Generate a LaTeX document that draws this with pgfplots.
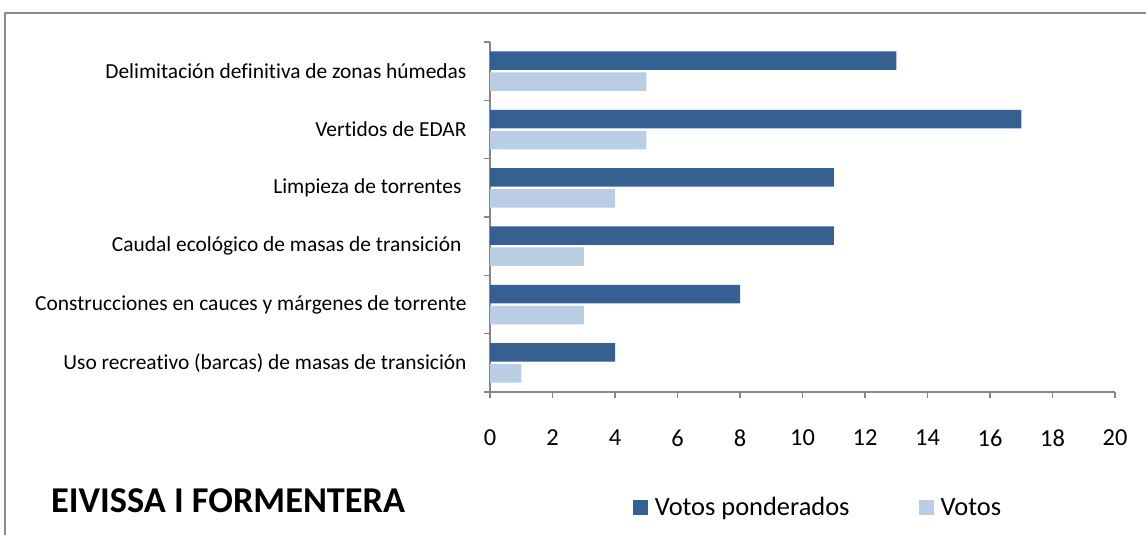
\documentclass[border=0pt]{standalone}
\usepackage{fontspec}
\setmainfont{Carlito}[Ligatures=NoCommon]
\usepackage{pgfplots}
\pgfplotsset{compat=1.18}
\definecolor{darkbar}{HTML}{376092}
\definecolor{lightbar}{HTML}{B9CDE5}
\definecolor{axgray}{HTML}{868686}
\definecolor{framegray}{HTML}{8C8C8C}

\begin{document}
\begin{tikzpicture}
\useasboundingbox (0,0) rectangle (1146bp,535bp);
% outer chart frame (cut at right and bottom)
\draw[framegray, line width=2bp] (5bp,0) -- (5bp,522bp) -- (1146bp,522bp);

\begin{axis}[
  at={(490bp,143bp)}, anchor=origin,
  scale only axis, width=625bp, height=350bp,
  xbar, bar width=18.5bp,
  xmin=0, xmax=20, ymin=0.5, ymax=6.5,
  axis x line*=bottom, axis y line*=left,
  axis line style={-, draw=axgray, line width=1.3bp},
  tick align=outside,
  major tick length=6bp,
  tick style={draw=axgray, line width=1.3bp},
  xtick={0,2,...,20},
  /pgf/number format/assume math mode=true,
  xticklabel style={font=\fontsize{24.5}{28}\selectfont, yshift=-28bp},
  ytick={0.5,1.5,...,6.5}, yticklabels={},
  extra y ticks={1,2,3,4,5,6},
  extra y tick labels={
    Uso recreativo (barcas) de masas de transición,
    Construcciones en cauces y márgenes de torrente,
    Caudal ecológico de masas de transición\kern5bp,
    Limpieza de torrentes\kern5bp,
    Vertidos de EDAR,
    Delimitación definitiva de zonas húmedas},
  extra y tick style={major tick length=0pt,
    yticklabel style={font=\fontsize{21.5}{25}\selectfont, xshift=-20bp}},
  legend columns=2,
  legend style={at={(0.2235,-0.33)}, anchor=west, draw=none,
    font=\fontsize{26.5}{30}\selectfont,
    /tikz/every odd column/.append style={column sep=5bp},
    /tikz/every even column/.append style={column sep=67bp}},
  legend image code/.code={\fill[#1] (0bp,-7.5bp) rectangle (15bp,7.5bp);},
]
\addplot[fill=darkbar, draw=none, bar shift=10.5bp] coordinates {
  (4,1) (8,2) (11,3) (11,4) (17,5) (13,6)};
\addplot[fill=lightbar, draw=none, bar shift=-10.5bp] coordinates {
  (1,1) (3,2) (3,3) (4,4) (5,5) (5,6)};
\legend{Votos ponderados, Votos}
\end{axis}

\node[anchor=base west, font=\fontsize{36.5}{42}\selectfont\bfseries, inner sep=0pt]
  at (51bp,23bp) {EIVISSA I FORMENTERA};
\end{tikzpicture}
\end{document}
